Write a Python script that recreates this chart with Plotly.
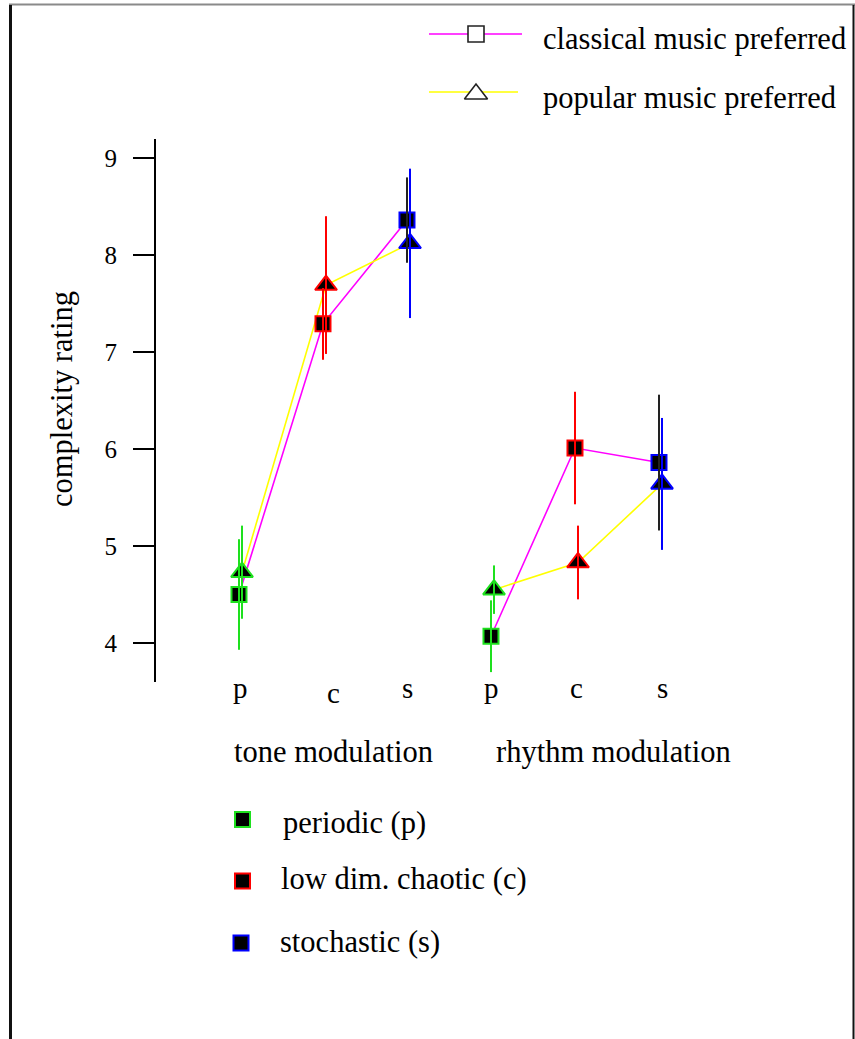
import plotly.graph_objects as go

# ---------------- data ----------------
conditions = ["p", "c", "s"]
condition_names = ["periodic (p)", "low dim. chaotic (c)", "stochastic (s)"]
modulations = ["tone modulation", "rhythm modulation"]
series_names = ["classical music preferred", "popular music preferred"]

# order: tone p, tone c, tone s, rhythm p, rhythm c, rhythm s
classical_mean = [4.50, 7.29, 8.36, 4.07, 6.01, 5.86]
classical_err = [0.57, 0.37, 0.44, 0.37, 0.58, 0.70]
popular_mean = [4.73, 7.69, 8.12, 4.55, 4.83, 5.64]
popular_err = [0.48, 0.71, 0.77, 0.25, 0.38, 0.68]
y_ticks = [4, 5, 6, 7, 8, 9]

# ---------------- style ----------------
W, H = 855, 1039
FONT = "Liberation Serif"
GREEN, RED, BLUE = "#1ee01e", "#ff0000", "#0000ff"
cond_colors = [GREEN, RED, BLUE]
classical_err_colors = [GREEN, RED, "#222222"]
popular_err_colors = [GREEN, RED, BLUE]
MAGENTA, YELLOW = "#ff00ff", "#ffff00"

X0_PX, DX_PX = 240.5, 84.0           # pixel of first category, pixels per category
PL, PR, PT, PB = 156, 760, 139, 682  # plot area in pixels
Y9_PX, PX_PER_UNIT = 158, 97.0
DODGE = 0.018


def fx(px):
    return px / W


def fy(py):
    return 1 - py / H


n_mod = len(modulations)
n_cond = len(conditions)
pos = list(range(n_mod * n_cond))
cond_idx = [i % n_cond for i in pos]

xc = [p - DODGE for p in pos]
xp = [p + DODGE for p in pos]


def gapped(xs, ys):
    ox, oy = [], []
    for g in range(n_mod):
        if g:
            ox.append(None)
            oy.append(None)
        ox += xs[g * n_cond:(g + 1) * n_cond]
        oy += ys[g * n_cond:(g + 1) * n_cond]
    return ox, oy


fig = go.Figure()

# connecting lines
lx, ly = gapped(xc, classical_mean)
fig.add_trace(go.Scatter(x=lx, y=ly, mode="lines", line=dict(color=MAGENTA, width=1.6),
                         showlegend=False, hoverinfo="skip"))
lx, ly = gapped(xp, popular_mean)
fig.add_trace(go.Scatter(x=lx, y=ly, mode="lines", line=dict(color=YELLOW, width=1.6),
                         showlegend=False, hoverinfo="skip"))

# markers
fig.add_trace(go.Scatter(
    x=xc, y=classical_mean, mode="markers", showlegend=False,
    marker=dict(symbol="square", size=15, color="black",
                line=dict(color=[cond_colors[c] for c in cond_idx], width=2))))
fig.add_trace(go.Scatter(
    x=xp, y=popular_mean, mode="markers", showlegend=False,
    marker=dict(symbol="triangle-up", size=19, color="black",
                line=dict(color=[cond_colors[c] for c in cond_idx], width=2))))

# error bars (drawn on top, no caps)
for xs, ms, es, cols in [(xc, classical_mean, classical_err, classical_err_colors),
                         (xp, popular_mean, popular_err, popular_err_colors)]:
    for i in pos:
        fig.add_trace(go.Scatter(
            x=[xs[i], xs[i]], y=[ms[i] - es[i], ms[i] + es[i]], mode="lines",
            line=dict(color=cols[cond_idx[i]], width=2),
            showlegend=False, hoverinfo="skip"))

# ---------------- legend samples on a pixel overlay ----------------
leg_rows = [34, 92]
leg_lines = [(429, 522), (429, 518)]
leg_colors = [MAGENTA, YELLOW]
leg_symbols = ["square", "triangle-up"]
leg_sizes = [16, 20]
leg_marker_dy = [0, 2]
for k in range(len(series_names)):
    fig.add_trace(go.Scatter(x=list(leg_lines[k]), y=[leg_rows[k]] * 2, mode="lines",
                             line=dict(color=leg_colors[k], width=1.6),
                             xaxis="x2", yaxis="y2", showlegend=False, hoverinfo="skip"))
    fig.add_trace(go.Scatter(x=[476], y=[leg_rows[k] + leg_marker_dy[k]], mode="markers",
                             marker=dict(symbol=leg_symbols[k], size=leg_sizes[k], color="white",
                                         line=dict(color="#222222", width=1.6)),
                             xaxis="x2", yaxis="y2", showlegend=False, hoverinfo="skip"))

cond_leg_xy = [(242.5, 819.5), (242.5, 881), (241, 943)]
for k in range(n_cond):
    fig.add_trace(go.Scatter(x=[cond_leg_xy[k][0]], y=[cond_leg_xy[k][1]], mode="markers",
                             marker=dict(symbol="square", size=15, color="black",
                                         line=dict(color=cond_colors[k], width=2)),
                             xaxis="x2", yaxis="y2", showlegend=False, hoverinfo="skip"))

# ---------------- annotations ----------------
ann = []
txt = dict(family=FONT, size=30.5, color="black")

# series legend text
for k, name in enumerate(series_names):
    ann.append(dict(text=name, x=fx(541), y=fy([39, 98][k]), xref="paper", yref="paper",
                    xanchor="left", yanchor="middle", showarrow=False, font=txt))

# condition legend text
cond_text_xy = [(281, 823), (279, 879), (278, 942)]
for k, name in enumerate(condition_names):
    ann.append(dict(text=name, x=fx(cond_text_xy[k][0]), y=fy(cond_text_xy[k][1]),
                    xref="paper", yref="paper", xanchor="left", yanchor="middle",
                    showarrow=False, font=txt))

# category (tick) labels
label_dx = [-0.5, 8.5, -1, -1, 0, 1.5]
label_py = [688, 693, 688, 688, 688, 688]
for i in pos:
    ann.append(dict(text=conditions[cond_idx[i]], x=i, xref="x", xshift=label_dx[i],
                    y=fy(label_py[i]), yref="paper", xanchor="center", yanchor="middle",
                    showarrow=False, font=dict(family=FONT, size=29, color="black")))

# modulation group labels
mod_left = [232, 494]
for g, name in enumerate(modulations):
    ann.append(dict(text=name, x=fx(mod_left[g]), y=fy(752), xref="paper", yref="paper",
                    xanchor="left", yanchor="middle", showarrow=False, font=txt))

# y title
ann.append(dict(text="complexity rating", x=fx(62), y=fy(399), xref="paper", yref="paper",
                xanchor="center", yanchor="middle", textangle=-90, showarrow=False, font=txt))

# ---------------- frame ----------------
shapes = [
    dict(type="line", xref="paper", yref="paper", x0=fx(9), x1=fx(855), y0=fy(4.5), y1=fy(4.5),
         line=dict(color="#8a8a8a", width=2)),
    dict(type="line", xref="paper", yref="paper", x0=fx(10.5), x1=fx(10.5), y0=fy(5), y1=fy(1045),
         line=dict(color="#111111", width=3)),
    dict(type="line", xref="paper", yref="paper", x0=fx(853.5), x1=fx(853.5), y0=fy(5), y1=fy(1045),
         line=dict(color="#111111", width=2)),
]

fig.update_layout(
    width=W, height=H,
    margin=dict(l=0, r=0, t=0, b=0),
    paper_bgcolor="white", plot_bgcolor="rgba(0,0,0,0)",
    showlegend=False,
    font=dict(family=FONT, color="black"),
    xaxis=dict(domain=[fx(PL), fx(PR)],
               range=[(PL - X0_PX) / DX_PX, (PR - X0_PX) / DX_PX],
               showline=False, showgrid=False, zeroline=False, showticklabels=False,
               ticks="", fixedrange=True),
    yaxis=dict(domain=[fy(PB), fy(PT)],
               range=[9 - (PB - Y9_PX) / PX_PER_UNIT, 9 + (Y9_PX - PT) / PX_PER_UNIT],
               showline=True, linecolor="black", linewidth=2,
               showgrid=False, zeroline=False,
               tickmode="array", tickvals=y_ticks, ticktext=[str(v) for v in y_ticks],
               ticks="outside", ticklen=21, tickwidth=2, tickcolor="black",
               ticklabelstandoff=11,
               tickfont=dict(family=FONT, size=25, color="black"), fixedrange=True),
    xaxis2=dict(domain=[0, 1], range=[0, W], visible=False, anchor="y2", fixedrange=True),
    yaxis2=dict(domain=[0, 1], range=[H, 0], visible=False, anchor="x2", fixedrange=True),
    annotations=ann,
    shapes=shapes,
)

fig.write_html("out.html")
